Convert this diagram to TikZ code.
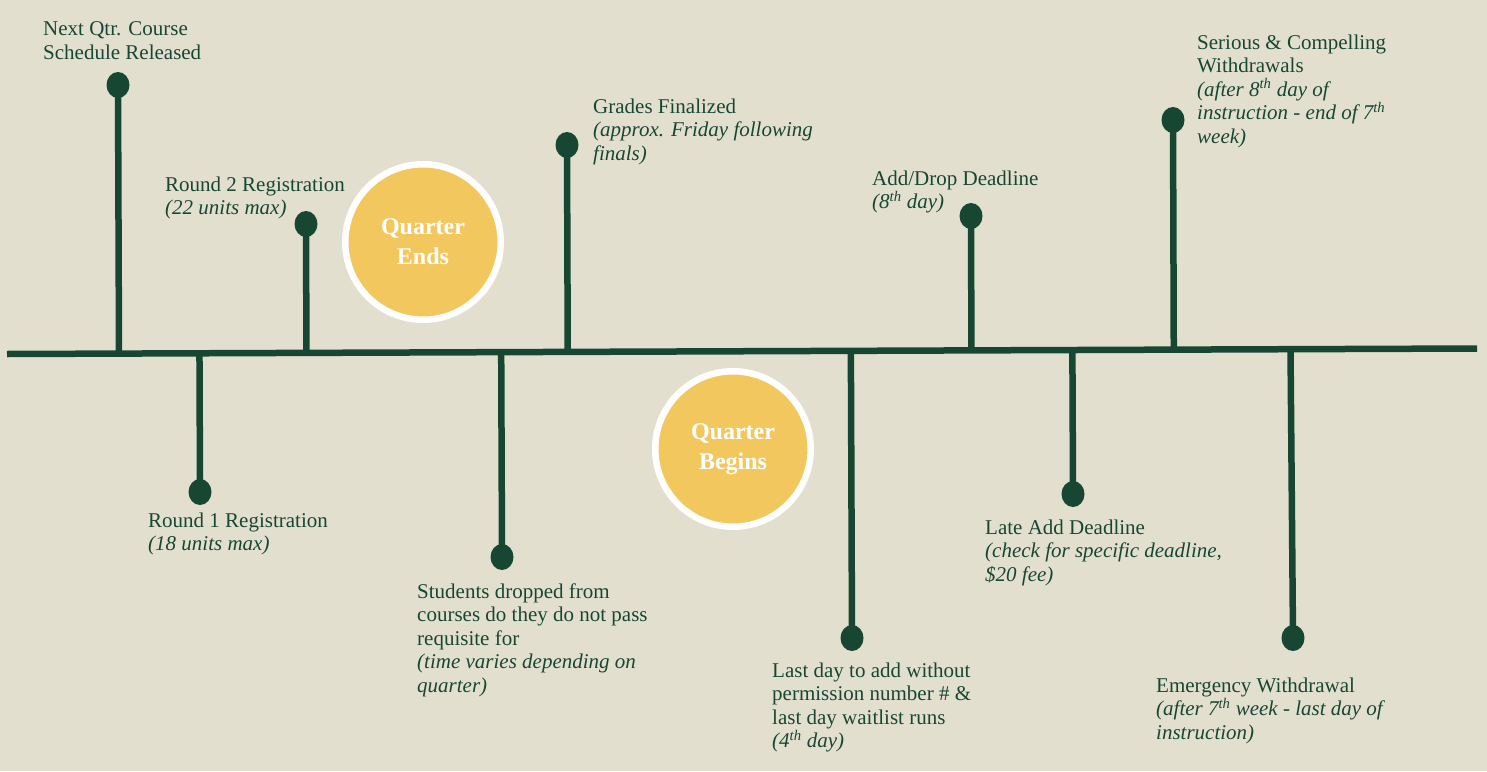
\documentclass[tikz,border=0pt]{standalone}
\usepackage{fontspec}
\setmainfont{Liberation Serif}
\usetikzlibrary{calc,shapes.geometric}
\definecolor{bg}{HTML}{E3DFCE}
\definecolor{pine}{HTML}{174733}
\definecolor{gold}{HTML}{F2C85E}
\tikzset{
  axis/.style={draw=pine,line width=6.5pt},
  stem/.style={draw=pine,line width=6.5pt},
  dot/.style={ellipse,fill=pine,inner sep=0pt,minimum width=23pt,minimum height=26pt},
  lbl/.style={anchor=north west,inner sep=0pt,align=left,text=pine,
    font=\fontsize{21}{23.5}\selectfont,execute at begin node=\strut},
  qcircle/.style={circle,fill=gold,draw=white,line width=6.5pt,inner sep=0pt,
    minimum size=155.5pt,text=white,align=center,
    font=\bfseries\fontsize{24}{30}\selectfont}
}
\begin{document}
\begin{tikzpicture}[x=1pt,y=-1pt]
\fill[bg] (0,0) rectangle (1487,771);
\useasboundingbox (0,0) rectangle (1487,771);

% timeline
\coordinate (L) at (7,354);
\coordinate (R) at (1477,348.5);
\draw[axis] (L) -- (R);

% dots
\node[dot] (d1) at (118,85) {};
\node[dot] (d2) at (306,224) {};
\node[dot] (d3) at (567,145) {};
\node[dot] (d4) at (971,216) {};
\node[dot] (d5) at (1173,120) {};
\node[dot] (d6) at (200,492) {};
\node[dot] (d7) at (502,557) {};
\node[dot] (d8) at (852,638) {};
\node[dot] (d9) at (1073,494) {};
\node[dot] (d10) at (1293,638) {};
\coordinate (e10) at (1290.5,349.2);

% stems
\foreach \d in {d1,d2,d3,d4,d5,d6,d7,d8,d9}{
  \draw[stem] (\d.center) -- ($(L)!(\d.center)!(R)$);
}
\draw[stem] (d10.center) -- (e10);

% circles
\node[qcircle] (qe) at (423,242) {Quarter\\Ends};
\node[qcircle] (qb) at (733,449) {Quarter\\Begins};

% labels
\node[lbl] (t1) at (43,21.5) {Next Qtr. Course\\Schedule Released};
\node[lbl] (t2) at (165,176.5) {Round 2 Registration\\\textit{(22 units max)}};
\node[lbl] (t3) at (593,98.5) {Grades Finalized\\\textit{(approx. Friday following}\\\textit{finals)}};
\node[lbl] (t4) at (872,170.5) {Add/Drop Deadline\\\textit{(8\textsuperscript{th} day)}};
\node[lbl] (t5) at (1197,34.5) {Serious \& Compelling\\Withdrawals\\\textit{(after 8\textsuperscript{th} day of}\\\textit{instruction - end of 7\textsuperscript{th}}\\\textit{week)}};
\node[lbl] (t6) at (148,512.5) {Round 1 Registration\\\textit{(18 units max)}};
\node[lbl] (t7) at (417,583.5) {Students dropped from\\courses do they do not pass\\requisite for\\\textit{(time varies depending on}\\\textit{quarter)}};
\node[lbl] (t8) at (772,662.5) {Last day to add without\\permission number \# \&\\last day waitlist runs\\\textit{(4\textsuperscript{th} day)}};
\node[lbl] (t9) at (985,519.5) {Late Add Deadline\\\textit{(check for specific deadline,}\\\textit{\$20 fee)}};
\node[lbl] (t10) at (1156,677.5) {Emergency Withdrawal\\\textit{(after 7\textsuperscript{th} week - last day of}\\\textit{instruction)}};
\end{tikzpicture}
\end{document}
